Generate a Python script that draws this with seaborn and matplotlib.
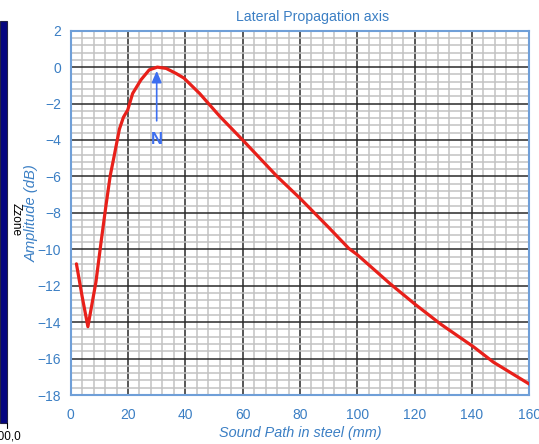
import matplotlib
matplotlib.use("Agg")
import matplotlib.pyplot as plt
import seaborn as sns
import pandas as pd
import numpy as np
from matplotlib.patches import Rectangle

# ---- data ----
sound_path = [2, 4, 6, 8.8, 10.6, 12.3, 13.8, 15.2, 17.0, 18.4, 19.9, 21.6, 24.5, 27.4,
              30.2, 33.3, 36.8, 39.5, 45, 52, 60, 72, 80, 90, 97, 100, 111.5, 120,
              129, 140.5, 147.5, 160]
amplitude = [-10.8, -12.6, -14.25, -11.8, -9.6, -7.6, -5.95, -4.85, -3.4, -2.75, -2.35,
             -1.45, -0.7, -0.15, 0.0, -0.07, -0.35, -0.6, -1.45, -2.7, -4.0, -6.0, -7.2,
             -8.8, -9.95, -10.3, -11.9, -13.0, -14.1, -15.35, -16.2, -17.4]
x_ticks = [0, 20, 40, 60, 80, 100, 120, 140, 160]
y_ticks = [2, 0, -2, -4, -6, -8, -10, -12, -14, -16, -18]
title = "Lateral Propagation axis"
x_label = "Sound Path in steel (mm)"
y_label = "Amplitude (dB)"
near_field_x = 30
near_field_label = "N"

df = pd.DataFrame({"x": sound_path, "y": amplitude})

sns.set_style("white")
plt.rcParams["font.family"] = ["Liberation Sans", "DejaVu Sans"]

W, H = 539, 444
fig = plt.figure(figsize=(W / 100, H / 100), dpi=100)
left, right, top, bottom = 70.7, 529.3, 30.7, 395
ax = fig.add_axes([left / W, 1 - bottom / H, (right - left) / W, (bottom - top) / H])

blue = "#3b7fc4"

# grid
ax.set_xlim(0, 160)
ax.set_ylim(-18, 2)
ax.set_xticks(x_ticks)
ax.set_yticks(y_ticks)
ax.set_xticks(np.arange(0, 161, 4), minor=True)
ax.set_yticks(np.arange(-18, 2.01, 0.4), minor=True)
ax.grid(which="minor", color="#c2c2c2", linewidth=1.1, zorder=0)
ax.grid(which="major", color="#2a2a2a", linewidth=1.1, zorder=1)
ax.set_axisbelow(True)

sns.lineplot(data=df, x="x", y="y", ax=ax, color="#e8201a", linewidth=2.3, zorder=5)

# annotation arrow "N"
ax.annotate("", xy=(near_field_x, -0.05), xytext=(near_field_x, -3.1),
            arrowprops=dict(arrowstyle="-|>,head_length=0.7,head_width=0.3",
                            color="#3d6ff0", lw=1.2), zorder=6)
ax.text(near_field_x, -3.95, near_field_label, color="#3d6ff0", fontsize=12,
        fontweight="bold", ha="center", va="center", zorder=6)

for s in ax.spines.values():
    s.set_color("#6f9fd8")
    s.set_linewidth(1.5)

ax.tick_params(axis="x", which="major", length=0, pad=9, labelsize=10, labelcolor=blue)
ax.tick_params(axis="y", which="major", length=3, color="#222222", pad=4,
               labelsize=10, labelcolor=blue)
ax.tick_params(which="minor", length=0)

ax.set_xlabel(x_label, color=blue, fontsize=10.4, fontstyle="italic", labelpad=3)
ax.set_ylabel(y_label, color=blue, fontsize=10.6, fontstyle="italic")
ax.yaxis.set_label_coords((38.5 - left) / (right - left), 0.5)

fig.text(313 / W, 1 - 17 / H, title, color=blue, fontsize=10.2, ha="center", va="center")

# left-side leftover colour bar fragment
fig.patches.append(Rectangle((0, 1 - 423 / H), 7 / W, (423 - 21) / H,
                             transform=fig.transFigure, facecolor="#050580",
                             edgecolor="#222244", linewidth=0.8))
fig.add_artist(plt.Line2D([7 / W, 7 / W], [1 - 423 / H, 1 - 428 / H],
                          transform=fig.transFigure, color="black", lw=0.8))
fig.text(16 / W, 1 - 220 / H, "Zzone", rotation=-90, fontsize=8.6, color="black",
         ha="center", va="center")
fig.text(21 / W, 1 - 436 / H, "100,0", fontsize=8.5, color="black", ha="right", va="center")

fig.savefig("out.png", dpi=100)
